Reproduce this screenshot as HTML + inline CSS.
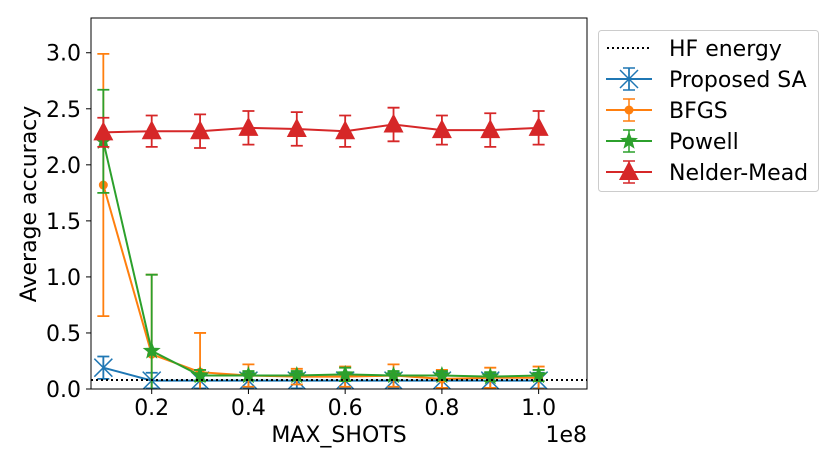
<!DOCTYPE html>
<html><head><meta charset="utf-8"><style>
html,body{margin:0;padding:0;background:#fff;}
svg{display:block;font-family:"DejaVu Sans","Liberation Sans",sans-serif;}
</style></head><body>
<svg id="chart" width="838" height="465" viewBox="0 0 838 465" xmlns="http://www.w3.org/2000/svg"></svg>
<script>
const xs = [0.1,0.2,0.3,0.4,0.5,0.6,0.7,0.8,0.9,1.0];
const saVals = [0.19,0.075,0.075,0.075,0.075,0.075,0.075,0.075,0.075,0.075];
const saErr = [0.1,0.07,0.07,0.07,0.07,0.07,0.07,0.07,0.07,0.07];
const bfgsVals = [1.82,0.31,0.15,0.12,0.11,0.11,0.12,0.09,0.10,0.10];
const bfgsErr = [1.17,0.71,0.35,0.10,0.07,0.09,0.10,0.08,0.09,0.10];
const powellVals = [2.21,0.34,0.12,0.12,0.12,0.13,0.12,0.12,0.11,0.12];
const powellErr = [0.46,0.68,0.05,0.04,0.04,0.06,0.04,0.04,0.04,0.05];
const nmVals = [2.29,2.30,2.30,2.33,2.32,2.30,2.36,2.31,2.31,2.33];
const nmErr = [0.13,0.14,0.15,0.15,0.15,0.14,0.15,0.13,0.15,0.15];
const hfEnergy = 0.08;
const xTicks = [0.2,0.4,0.6,0.8,1.0];
const xTickLabels = ["0.2","0.4","0.6","0.8","1.0"];
const yTicks = [0,0.5,1,1.5,2,2.5,3];
const yTickLabels = ["0.0","0.5","1.0","1.5","2.0","2.5","3.0"];

const L=91,R=587,T=18,B=389;
const xMin=0.0745,xMax=1.1,yMin=0,yMax=3.31;
const X=v=>L+(v-xMin)/(xMax-xMin)*(R-L);
const Y=v=>B-(v-yMin)/(yMax-yMin)*(B-T);
const svg=document.getElementById('chart');
const NS="http://www.w3.org/2000/svg";
function mk(tag,attrs,parent){const e=document.createElementNS(NS,tag);for(const k in attrs)e.setAttribute(k,attrs[k]);(parent||svg).appendChild(e);return e;}

const defs=mk('clipPath',{id:'clip'});mk('rect',{x:L,y:T,width:R-L,height:B-T},defs);
const plot=mk('g',{'clip-path':'url(#clip)'});



function marker(g,type,cx,cy,color){
  if(type==='x'){const s=9;mk('path',{d:`M${cx-s} ${cy-s}L${cx+s} ${cy+s}M${cx-s} ${cy+s}L${cx+s} ${cy-s}M${cx} ${cy-s*1.2}L${cx} ${cy+s*1.2}`,stroke:color,'stroke-width':1.5,fill:'none'},g);}
  else if(type==='o'){mk('circle',{cx:cx,cy:cy,r:4.5,fill:color},g);}
  else if(type==='*'){const p=[];for(let i=0;i<10;i++){const r=i%2?4:9.5;const a=-Math.PI/2+i*Math.PI/5;p.push((cx+r*Math.cos(a)).toFixed(1)+','+(cy+r*Math.sin(a)).toFixed(1));}mk('polygon',{points:p.join(' '),fill:color},g);}
  else if(type==='^'){mk('polygon',{points:`${cx},${cy-11} ${cx-10},${cy+8} ${cx+10},${cy+8}`,fill:color},g);}
}
function series(name,vals,errs,color,type){
  const g=mk('g',{},plot);
  
  
  let d='';
  xs.forEach((x,i)=>{d+=(i?'L':'M')+X(x)+' '+Y(vals[i]);});
  xs.forEach((x,i)=>{const cx=X(x),lo=Y(vals[i]-errs[i]),hi=Y(vals[i]+errs[i]);
    const eb=mk('path',{d:`M${cx} ${lo}L${cx} ${hi}M${cx-6} ${lo}L${cx+6} ${lo}M${cx-6} ${hi}L${cx+6} ${hi}`,stroke:color,'stroke-width':1.8,fill:'none'},g);
    
    });
  mk('path',{d:d,stroke:color,'stroke-width':2,fill:'none'},g);
  xs.forEach((x,i)=>marker(g,type,X(x),Y(vals[i]),color));
}
series('proposed-sa',saVals,saErr,'#1f77b4','x');
series('bfgs',bfgsVals,bfgsErr,'#ff7f0e','o');
series('powell',powellVals,powellErr,'#2ca02c','*');
series('nelder-mead',nmVals,nmErr,'#d62728','^');
const hf=mk('line',{x1:L,x2:R,y1:Y(hfEnergy),y2:Y(hfEnergy),stroke:'#000','stroke-width':2,'stroke-dasharray':'2,3'},plot);



const ax=mk('rect',{x:L,y:T,width:R-L,height:B-T,fill:'none',stroke:'#000','stroke-width':1});


xTicks.forEach((t,i)=>{mk('line',{x1:X(t),x2:X(t),y1:B,y2:B+5,stroke:'#000'});
  const tx=mk('text',{x:X(t),y:B+26,'text-anchor':'middle','font-size':22});tx.textContent=xTickLabels[i];
  });
yTicks.forEach((t,i)=>{mk('line',{x1:L-5,x2:L,y1:Y(t),y2:Y(t),stroke:'#000'});
  const tx=mk('text',{x:L-10,y:Y(t)+8,'text-anchor':'end','font-size':22});tx.textContent=yTickLabels[i];
  });
let t=mk('text',{x:339,y:442,'text-anchor':'middle','font-size':22});t.textContent='MAX_SHOTS';

t=mk('text',{x:587,y:442,'text-anchor':'end','font-size':22});t.textContent='1e8';

t=mk('text',{x:36,y:204,'text-anchor':'middle','font-size':22,transform:'rotate(-90 36 204)'});t.textContent='Average accuracy';


const lg=mk('g',{});


mk('rect',{x:598.5,y:30.5,width:220,height:161,rx:3,fill:'#fff',stroke:'#ccc'},lg);
const entries=[['HF energy','#000',null],['Proposed SA','#1f77b4','x'],['BFGS','#ff7f0e','o'],['Powell','#2ca02c','*'],['Nelder-Mead','#d62728','^']];
entries.forEach((e,i)=>{const y=48+i*31;const g=mk('g',{},lg);
  
  if(!e[2]){mk('line',{x1:607,x2:650,y1:y,y2:y,stroke:'#000','stroke-width':2,'stroke-dasharray':'2,3'},g);}
  else{mk('line',{x1:606,x2:652,y1:y,y2:y,stroke:e[1],'stroke-width':2},g);
    mk('path',{d:`M629 ${y-11}L629 ${y+11}M623 ${y-11}L635 ${y-11}M623 ${y+11}L635 ${y+11}`,stroke:e[1],'stroke-width':1.5},g);
    marker(g,e[2],629,y,e[1]);}
  const tx=mk('text',{x:669,y:y+8,'font-size':22},g);tx.textContent=e[0];});
</script>
</body></html>
